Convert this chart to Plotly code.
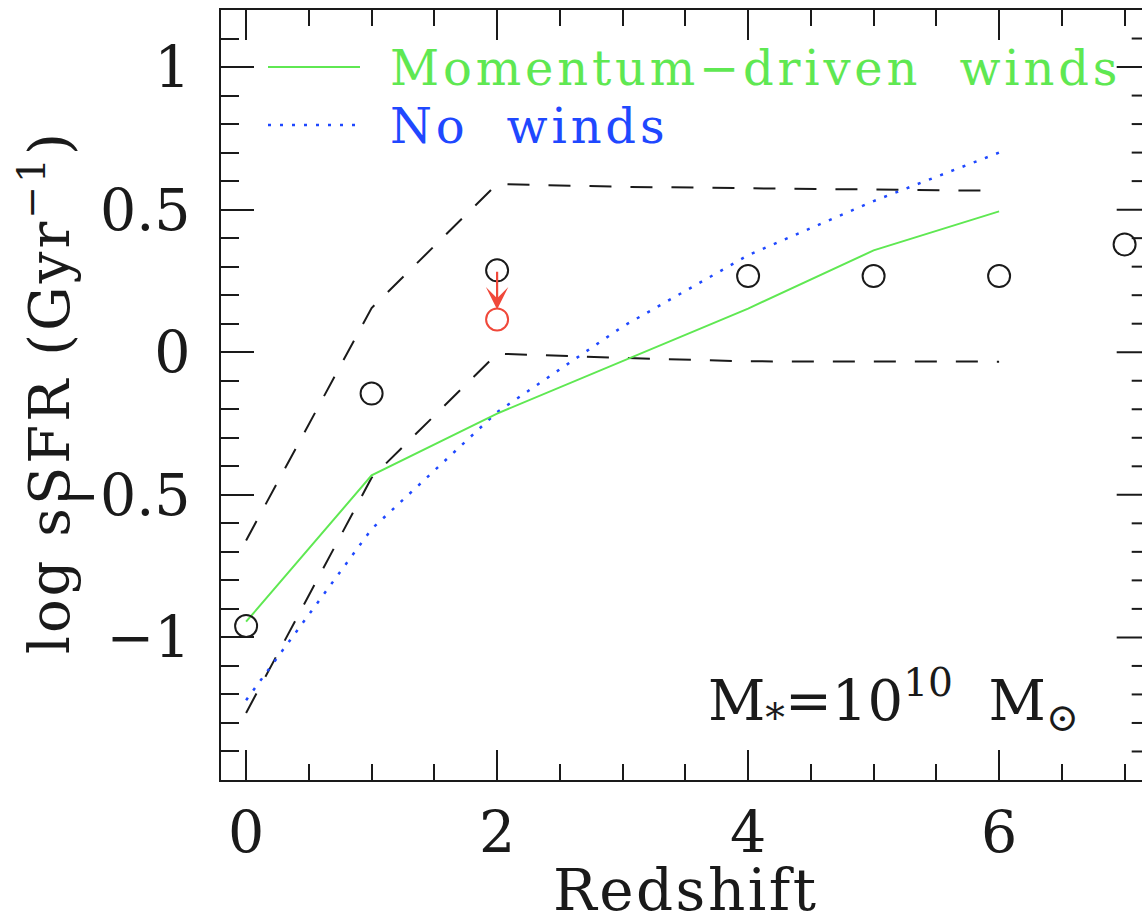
import plotly.graph_objects as go

# ---- data -----------------------------------------------------------------
z_obs = [0, 1, 2, 4, 5, 6, 7]
ssfr_obs = [-0.96, -0.145, 0.287, 0.267, 0.267, 0.267, 0.378]

z_corr = [2]
ssfr_corr = [0.115]

z_model = [0, 1, 2, 3, 4, 5, 6]
ssfr_momentum = [-0.945, -0.432, -0.215, -0.03, 0.153, 0.357, 0.494]
ssfr_nowinds = [-1.22, -0.62, -0.21, 0.09, 0.34, 0.53, 0.70]
ssfr_upper = [-0.66, 0.155, 0.59, 0.58, 0.575, 0.57, 0.566]
ssfr_lower = [-1.265, -0.44, -0.005, -0.02, -0.032, -0.033, -0.033]

legend_labels = ["Momentum\u2212driven\u00a0\u00a0winds", "No\u00a0\u00a0winds"]
x_ticks = [0, 2, 4, 6]
y_ticks = [-1, -0.5, 0, 0.5, 1]

# ---- style ----------------------------------------------------------------
FONT = "DejaVu Serif"
GREEN = "#5fe852"
BLUE = "#1f48ff"
RED = "#f0483a"
INK = "#1a1a1a"

W, H = 1142, 920
ML, MT, MB = 221, 10, 140
PLOT_W = W - ML
PLOT_H = H - MT - MB
PX_PER_Z = 125.5           # frame spans z = -0.2 .. 7.2, cropped at the page edge
X_LO = -0.2
X_FRAME_HI = 7.2
X_HI = X_LO + PLOT_W / PX_PER_Z
Y_LO, Y_HI = -1.5, 1.2


def xp(px):
    return (px - ML) / PLOT_W


def yp(py):
    return (H - MB - py) / PLOT_H


fig = go.Figure()

fig.add_trace(go.Scatter(x=z_model, y=ssfr_upper, mode="lines",
                         line=dict(color=INK, width=2, dash="22px,19px"),
                         showlegend=False))
fig.add_trace(go.Scatter(x=z_model, y=ssfr_lower, mode="lines",
                         line=dict(color=INK, width=2, dash="22px,19px"),
                         showlegend=False))
fig.add_trace(go.Scatter(x=z_model, y=ssfr_nowinds, mode="lines",
                         line=dict(color=BLUE, width=2.5, dash="3px,9px"),
                         showlegend=False))
fig.add_trace(go.Scatter(x=z_model, y=ssfr_momentum, mode="lines",
                         line=dict(color=GREEN, width=2),
                         showlegend=False))
fig.add_trace(go.Scatter(x=z_obs, y=ssfr_obs, mode="markers",
                         marker=dict(symbol="circle-open", size=22,
                                     line=dict(color=INK, width=2), color=INK),
                         showlegend=False, cliponaxis=False))
fig.add_trace(go.Scatter(x=z_corr, y=ssfr_corr, mode="markers",
                         marker=dict(symbol="circle-open", size=22,
                                     line=dict(color=RED, width=2), color=RED),
                         showlegend=False))

# arrow from the uncorrected point down to the corrected one
fig.add_annotation(x=z_corr[0], y=ssfr_corr[0], ax=z_obs[2], ay=ssfr_obs[2],
                   xref="x", yref="y", axref="x", ayref="y", text="",
                   showarrow=True, arrowhead=3, arrowsize=1.7, arrowwidth=2.2,
                   arrowcolor=RED, standoff=10)

# right-hand ticks of the frame (its right edge lies beyond the page)
shapes = []
for i in range(-14, 12):
    v = i / 10
    major = (i % 5 == 0)
    length = 33 if major else 18
    shapes.append(dict(type="line", xref="x", yref="y",
                       x0=X_FRAME_HI - length / PX_PER_Z, x1=X_FRAME_HI,
                       y0=v, y1=v, line=dict(color=INK, width=2)))

# key samples
shapes.append(dict(type="line", xref="paper", yref="paper",
                   x0=xp(268), x1=xp(360), y0=yp(67), y1=yp(67),
                   line=dict(color=GREEN, width=2)))
shapes.append(dict(type="line", xref="paper", yref="paper",
                   x0=xp(268), x1=xp(356), y0=yp(125), y1=yp(125),
                   line=dict(color=BLUE, width=2.5, dash="3px,9px")))
fig.update_layout(shapes=shapes)

fig.add_annotation(x=xp(388), y=yp(68), xref="paper", yref="paper",
                   text=f'<span style="letter-spacing:3.8px">{legend_labels[0]}</span>',
                   showarrow=False, xanchor="left", yanchor="middle",
                   font=dict(family=FONT, size=48, color=GREEN))
fig.add_annotation(x=xp(388), y=yp(126), xref="paper", yref="paper",
                   text=f'<span style="letter-spacing:3.8px">{legend_labels[1]}</span>',
                   showarrow=False, xanchor="left", yanchor="middle",
                   font=dict(family=FONT, size=48, color=BLUE))

fig.add_annotation(x=xp(706), y=yp(700), xref="paper", yref="paper",
                   text="M<sub>*</sub>=10<sup>10</sup>\u00a0\u00a0M<sub>\u2299</sub>",
                   showarrow=False, xanchor="left", yanchor="middle",
                   font=dict(family=FONT, size=56, color=INK))

# axis titles
fig.add_annotation(x=xp(686), y=yp(890), xref="paper", yref="paper",
                   text='<span style="letter-spacing:2.5px">Redshift</span>',
                   showarrow=False, xanchor="center", yanchor="middle",
                   font=dict(family=FONT, size=58, color=INK))
fig.add_annotation(x=xp(45), y=yp(392), xref="paper", yref="paper",
                   text='<span style="letter-spacing:3px">log sSFR (Gyr<sup>\u22121</sup>)</span>',
                   showarrow=False, textangle=-90, xanchor="center", yanchor="middle",
                   font=dict(family=FONT, size=56, color=INK))

fig.update_xaxes(range=[X_LO, X_HI], showgrid=False, zeroline=False,
                 showline=True, linecolor=INK, linewidth=2, mirror="ticks",
                 ticks="inside", ticklen=30, tickwidth=2, tickcolor=INK,
                 tickmode="array", tickvals=x_ticks,
                 minor=dict(ticks="inside", ticklen=16, tickwidth=2,
                            tickcolor=INK, dtick=0.5, tick0=0, showgrid=False),
                 tickfont=dict(family=FONT, size=57, color=INK),
                 ticklabelstandoff=2)
fig.update_yaxes(range=[Y_LO, Y_HI], showgrid=False, zeroline=False,
                 showline=True, linecolor=INK, linewidth=2, mirror=False,
                 ticks="inside", ticklen=33, tickwidth=2, tickcolor=INK,
                 tickmode="array", tickvals=y_ticks,
                 minor=dict(ticks="inside", ticklen=18, tickwidth=2,
                            tickcolor=INK, dtick=0.1, tick0=0, showgrid=False),
                 tickfont=dict(family=FONT, size=57, color=INK),
                 ticklabelstandoff=17)

fig.update_layout(width=W, height=H, autosize=False,
                  margin=dict(l=ML, r=0, t=MT, b=MB, pad=0),
                  paper_bgcolor="white", plot_bgcolor="white",
                  showlegend=False)

fig.write_html("out.html", config={"displayModeBar": False})
